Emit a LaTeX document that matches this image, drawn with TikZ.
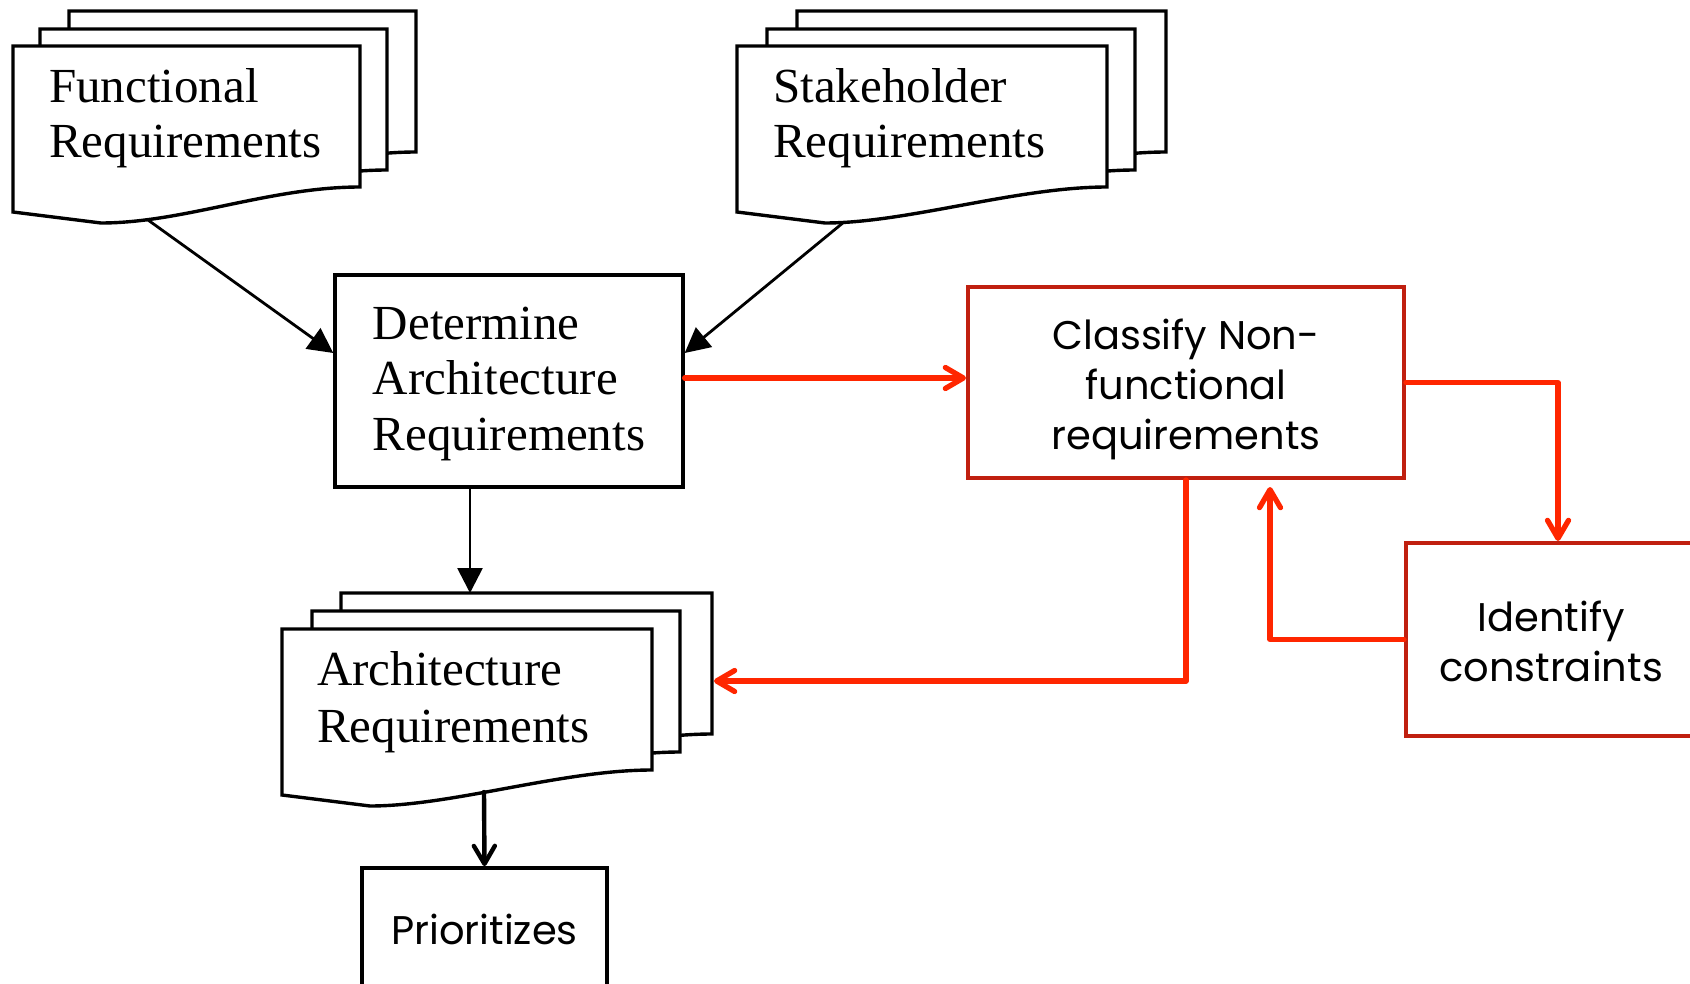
\documentclass[tikz,border=0pt]{standalone}
\usepackage{fontspec}
\setmainfont{Liberation Serif}
\newfontfamily\gothic{Poppins}
\usetikzlibrary{arrows.meta,calc}
\definecolor{redline}{RGB}{255,38,0}
\definecolor{boxred}{RGB}{192,32,16}
% document sheet with wavy bottom: x, y (top-left), width
\newcommand\docsheet[3]{%
  \draw[docline] (#1,#2) -- (#1+#3,#2) -- (#1+#3,#2+141)
    .. controls (#1+#3-90,#2+141) and (#1+170,#2+177) .. (#1+88,#2+177)
    -- (#1,#2+166) -- cycle;}
\begin{document}
\begin{tikzpicture}[x=1pt,y=-1pt,
  docline/.style={draw=black, line width=3.4pt, fill=white, line join=miter},
  doctext/.style={anchor=north west, inner sep=0pt, align=left, font=\fontsize{49}{55}\selectfont},
  blackbox/.style={draw=black, line width=3.4pt, fill=white, inner sep=0pt},
  redbox/.style={draw=boxred, line width=4pt, fill=white, inner sep=0pt, align=center, font=\gothic\fontsize{40}{50}\selectfont},
  blackarrow/.style={draw=black, line width=2.8pt, -{Triangle[length=25pt,width=25pt]}},
  redarrow/.style={draw=redline, line width=5.3pt, line cap=round, line join=round, -{Straight Barb[length=18pt,width=21pt,round]}},
  thickarrow/.style={draw=black, line width=4.4pt, line cap=round, -{Straight Barb[length=18pt,width=21pt,round]}},
]
\useasboundingbox (0,0) rectangle (1690,984);
\clip (0,0) rectangle (1690,984);
\fill[white] (0,0) rectangle (1690,984);

% Functional requirements stack
\docsheet{69}{11}{347}
\docsheet{40}{29}{347}
\docsheet{13}{46}{347}
\node[doctext] (func) at (49,62) {\rule{0pt}{40pt}Functional\\Requirements};

% Stakeholder requirements stack
\docsheet{797}{11}{369}
\docsheet{767}{29}{368}
\docsheet{737}{46}{370}
\node[doctext] (stake) at (773,62) {\rule{0pt}{40pt}Stakeholder\\Requirements};

% Architecture requirements stack
\docsheet{341}{593}{371}
\docsheet{312}{611}{368}
\docsheet{282}{629}{370}
\node[doctext, font=\fontsize{49}{57}\selectfont] (arch) at (317,645) {\rule{0pt}{40pt}Architecture\\Requirements};

% boxes
\node[blackbox, minimum width=348pt, minimum height=212pt, align=left,
      font=\fontsize{49}{55.5}\selectfont] (det) at (509,381) {\rule{0pt}{38pt}Determine\\Architecture\\Requirements};
\node[redbox, minimum width=436pt, minimum height=191pt] (cls) at (1186,382.5) {\rule{0pt}{45pt}Classify Non-\\functional\\requirements};
\node[redbox, minimum width=290pt, minimum height=193pt] (idn) at (1551,639.5) {\rule{0pt}{34pt}Identify\\constraints};
\node[blackbox, line width=3.8pt, minimum width=245pt, minimum height=122pt,
      font=\gothic\fontsize{40}{50}\selectfont] (prio) at (484.5,929) {Prioritizes};

% connector end points on the document shapes
\coordinate (funcout) at (148,220);
\coordinate (stakeout) at (844,222);
\coordinate (archin) at (470,593);
\coordinate (archout) at (484,792);
\coordinate (archright) at (714,681);

% black connectors
\draw[blackarrow] (funcout) -- ([yshift=28pt]det.west);
\draw[blackarrow] (stakeout) -- ([yshift=28pt]det.east);
\draw[blackarrow] ([xshift=-39pt]det.south) -- (archin);
\draw[thickarrow] (archout) -- (prio.north);

% red connectors
\draw[redarrow] ([yshift=3pt]det.east) -- ([yshift=3pt]det.east -| cls.west);
\draw[redarrow] (cls.east) -| ([xshift=7pt]idn.north);
\draw[redarrow] (idn.west) -| ([xshift=84pt,yshift=-7pt]cls.south);
\draw[redarrow] (cls.south) |- (archright);
\end{tikzpicture}
\end{document}
